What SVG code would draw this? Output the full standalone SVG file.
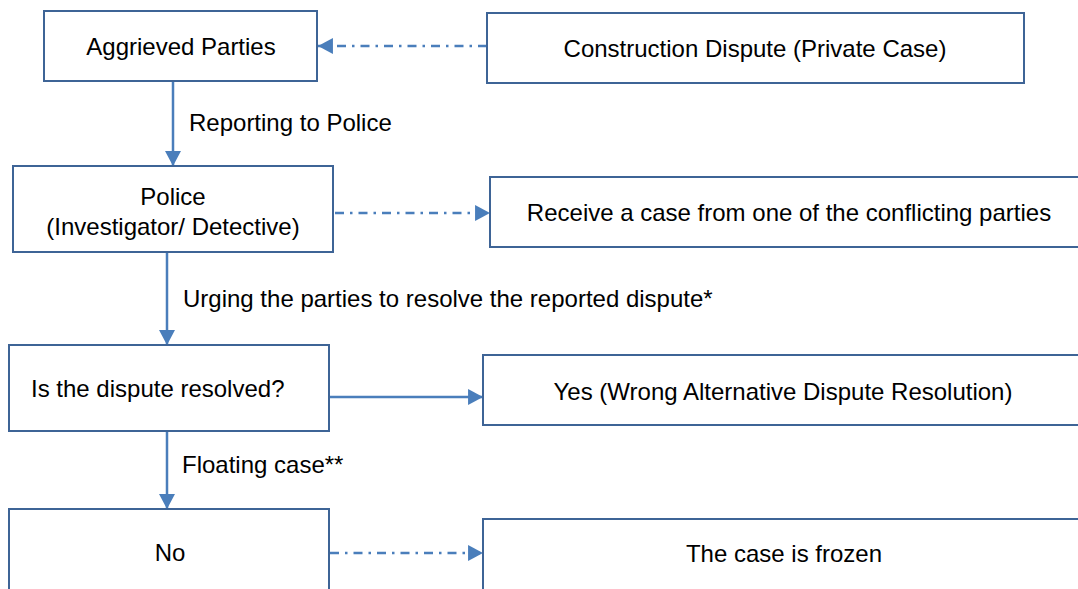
<svg xmlns="http://www.w3.org/2000/svg" width="1078" height="589" viewBox="0 0 1078 589">
<style>
.box{fill:#fff;stroke:#3E6496;stroke-width:2}
.t{font-family:"Liberation Sans",Arial,sans-serif;font-size:24px;fill:#000}
.c{text-anchor:middle}
.conn{fill:none;stroke:#4A7EBB;stroke-width:2.5}
.dd{stroke-dasharray:9 6 2.5 6}
</style>
<defs>
<marker id="ah" markerUnits="userSpaceOnUse" markerWidth="16" markerHeight="16" viewBox="0 0 14 15" refX="14" refY="7.5" orient="auto">
<path d="M0,0 L14,7.5 L0,15 Z" fill="#4A7EBB"/>
</marker>
</defs>
<rect width="1078" height="589" fill="#fff"/>
<g id="connectors">
<path class="conn dd" d="M487,46 L318,46" marker-end="url(#ah)"/>
<path class="conn" d="M173,81 L173,166" marker-end="url(#ah)"/>
<path class="conn dd" d="M335,213 L490,213" marker-end="url(#ah)"/>
<path class="conn" d="M167,252 L167,345" marker-end="url(#ah)"/>
<path class="conn" d="M329,397 L483,397" marker-end="url(#ah)"/>
<path class="conn" d="M167,431 L167,509" marker-end="url(#ah)"/>
<path class="conn dd" d="M330,553 L483,553" marker-end="url(#ah)"/>
<text class="t" x="189" y="131">Reporting to Police</text>
<text class="t" x="183" y="307">Urging the parties to resolve the reported dispute*</text>
<text class="t" x="182" y="473">Floating case**</text>
</g>
<g id="aggrieved">
<rect class="box" x="44" y="11" width="273" height="70"/>
<text class="t c" x="181" y="55">Aggrieved Parties</text>
</g>
<g id="construction">
<rect class="box" x="487" y="13" width="537" height="70"/>
<text class="t c" x="755" y="57">Construction Dispute (Private Case)</text>
</g>
<g id="police">
<rect class="box" x="13" y="166" width="320" height="86"/>
<text class="t c" x="173" y="205">Police</text>
<text class="t c" x="173" y="235">(Investigator/ Detective)</text>
</g>
<g id="receive">
<rect class="box" x="490" y="177" width="600" height="70"/>
<text class="t c" x="789" y="221">Receive a case from one of the conflicting parties</text>
</g>
<g id="resolved">
<rect class="box" x="9" y="345" width="320" height="86"/>
<text class="t" x="31" y="397">Is the dispute resolved?</text>
</g>
<g id="yes">
<rect class="box" x="483" y="355" width="607" height="70"/>
<text class="t c" x="783" y="400">Yes (Wrong Alternative Dispute Resolution)</text>
</g>
<g id="no">
<rect class="box" x="9" y="509" width="320" height="95"/>
<text class="t c" x="170" y="561">No</text>
</g>
<g id="frozen">
<rect class="box" x="483" y="519" width="607" height="85"/>
<text class="t c" x="784" y="562">The case is frozen</text>
</g>
</svg>
